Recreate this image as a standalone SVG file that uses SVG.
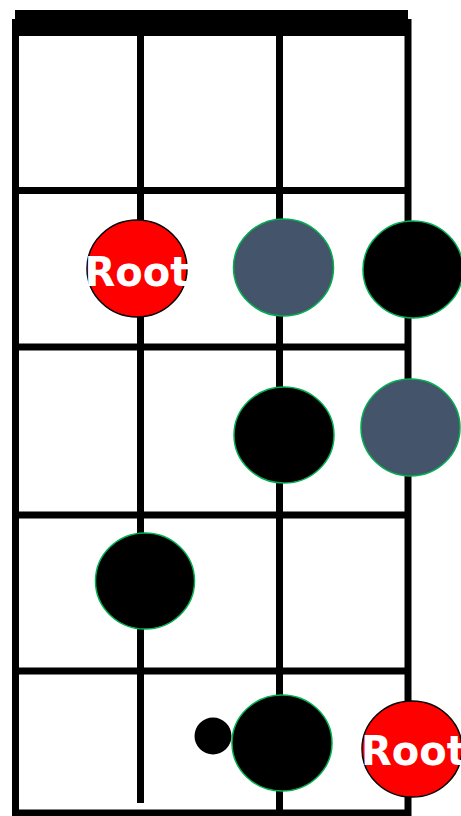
<svg xmlns="http://www.w3.org/2000/svg" width="461" height="816" viewBox="0 0 461 816">
<style>
.ln{stroke:#000;stroke-width:7;fill:none}
.g{stroke:#00B050;stroke-width:1.5}
.r{fill:#FF0000;stroke:#000;stroke-width:1.5}
.s{fill:#44546A}
.b{fill:#000}
.t{font-family:"DejaVu Sans",Verdana,sans-serif;font-weight:bold;font-size:40px;fill:#fff;text-anchor:middle}
</style>
<g id="board">
<rect x="15" y="10" width="393" height="26" fill="#000"/>
<rect class="ln" x="15.5" y="22.5" width="392.5" height="790.5"/>
<line class="ln" x1="140.5" y1="30" x2="140.5" y2="803"/>
<line class="ln" x1="279.5" y1="30" x2="279.5" y2="813"/>
<line class="ln" x1="15" y1="190.5" x2="408" y2="190.5"/>
<line class="ln" x1="15" y1="347" x2="408" y2="347"/>
<line class="ln" x1="15" y1="515" x2="408" y2="515"/>
<line class="ln" x1="15" y1="671" x2="408" y2="671"/>
</g>
<g id="root1"><ellipse class="r" cx="137" cy="268.5" rx="50" ry="48.5"/><text class="t" x="137" y="285.5">Root</text></g>
<g id="n2"><ellipse class="s g" cx="283.5" cy="267.5" rx="50" ry="48.5"/></g>
<g id="n3"><ellipse class="b g" cx="413" cy="269.5" rx="50" ry="48.5"/></g>
<g id="n4"><ellipse class="b g" cx="284" cy="435" rx="50" ry="48"/></g>
<g id="n5"><ellipse class="s g" cx="410.5" cy="427.5" rx="49.5" ry="48.5"/></g>
<g id="n6"><ellipse class="b g" cx="145" cy="581" rx="49.5" ry="48"/></g>
<g id="n7"><circle class="b" cx="213" cy="736" r="18.5"/></g>
<g id="n8"><ellipse class="b g" cx="282" cy="743" rx="50" ry="48"/></g>
<g id="root2"><ellipse class="r" cx="412" cy="749" rx="50" ry="48"/><text class="t" x="413.5" y="765">Root</text></g>
</svg>
